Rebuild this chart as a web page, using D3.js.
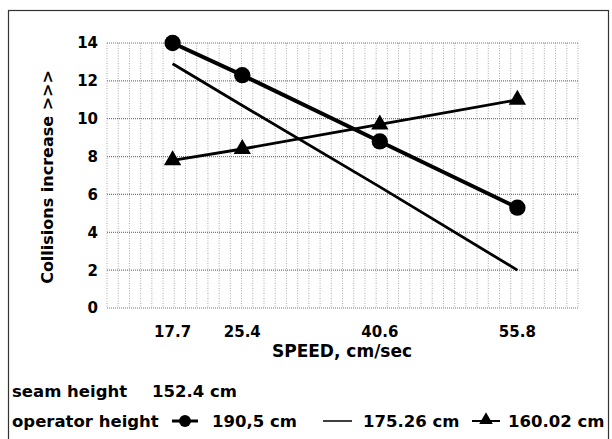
<!DOCTYPE html>
<html>
<head>
<meta charset="utf-8">
<script src="https://cdn.jsdelivr.net/npm/d3@7"></script>
<style>
  body { margin: 0; background: #fff; }
  text { font-family: "DejaVu Sans", sans-serif; font-weight: bold; fill: #000; }
</style>
</head>
<body>
<script>
// data
const speeds = [17.7, 25.4, 40.6, 55.8];
const op190 = [14.0, 12.3, 8.8, 5.3];    // 190,5 cm (circles)
const op175 = [12.9, 10.7, 6.4, 2.0];    // 175.26 cm (plain line)
const op160 = [7.8, 8.4, 9.7, 11.0];     // 160.02 cm (triangles)
const yTicks = [0, 2, 4, 6, 8, 10, 12, 14];

const width = 612;
const height = 439;

const svg = d3.select('body').append('svg')
    .attr('width', width)
    .attr('height', height);

svg.append('rect')
    .attr('width', width)
    .attr('height', height)
    .style('fill', '#fff');

// outer frame
svg.append('rect')
    .attr('x', 8.5)
    .attr('y', 10.5)
    .attr('width', 600)
    .attr('height', 440)
    .style('fill', 'none')
    .style('stroke', '#333')
    .style('stroke-width', 1.2);

const plot = { left: 107, right: 578, top: 43, bottom: 308 };

const x = d3.scaleLinear().domain([10.45, 62.5]).range([plot.left, plot.right]);
const y = d3.scaleLinear().domain([0, 14]).range([plot.bottom, plot.top]);

// grid (dotted, like the scanned minor grid)
const vGrid = d3.range(43).map(i => x.domain()[0] + i * (x.domain()[1] - x.domain()[0]) / 42);
svg.append('g')
    .selectAll('line')
    .data(vGrid)
    .join('line')
    .attr('x1', d => x(d))
    .attr('x2', d => x(d))
    .attr('y1', plot.top)
    .attr('y2', plot.bottom)
    .style('stroke', '#aaa')
    .style('stroke-width', 1)
    .style('stroke-dasharray', '1,1.5');

svg.append('g')
    .selectAll('line')
    .data(yTicks)
    .join('line')
    .attr('x1', plot.left)
    .attr('x2', plot.right)
    .attr('y1', d => y(d))
    .attr('y2', d => y(d))
    .style('stroke', '#777')
    .style('stroke-width', 1.2)
    .style('stroke-dasharray', '1,1');

// y tick labels
svg.append('g')
    .selectAll('text')
    .data(yTicks)
    .join('text')
    .attr('x', 98)
    .attr('y', d => y(d))
    .attr('dy', '0.36em')
    .attr('text-anchor', 'end')
    .style('font-size', '15px')
    .text(d => d);

// x tick labels
svg.append('g')
    .selectAll('text')
    .data(speeds)
    .join('text')
    .attr('x', d => x(d))
    .attr('y', 337)
    .attr('text-anchor', 'middle')
    .style('font-size', '15px')
    .text(d => d);

svg.append('text')
    .attr('x', 342)
    .attr('y', 357)
    .attr('text-anchor', 'middle')
    .style('font-size', '17px')
    .text('SPEED, cm/sec');

svg.append('text')
    .attr('transform', 'translate(53,177) rotate(-90)')
    .attr('text-anchor', 'middle')
    .style('font-size', '16px')
    .text('Collisions increase >>>');

// series
const line = d3.line().x(d => x(d[0])).y(d => y(d[1]));
const pts = vals => speeds.map((s, i) => [s, vals[i]]);

svg.append('path')
    .attr('d', line(pts(op160)))
    .style('fill', 'none')
    .style('stroke', '#000')
    .style('stroke-width', 2.8);

svg.append('path')
    .attr('d', line(pts(op175)))
    .style('fill', 'none')
    .style('stroke', '#000')
    .style('stroke-width', 2.8);

svg.append('path')
    .attr('d', line(pts(op190)))
    .style('fill', 'none')
    .style('stroke', '#000')
    .style('stroke-width', 4);

const circle = d3.symbol().type(d3.symbolCircle).size(210);
const tri = d3.symbol().type(d3.symbolTriangle).size(130);

svg.append('g')
    .selectAll('path')
    .data(pts(op190))
    .join('path')
    .attr('transform', d => `translate(${x(d[0])},${y(d[1])})`)
    .attr('d', circle)
    .style('fill', '#000');

svg.append('g')
    .selectAll('path')
    .data(pts(op160))
    .join('path')
    .attr('transform', d => `translate(${x(d[0])},${y(d[1])})`)
    .attr('d', tri)
    .style('fill', '#000');

// legend
svg.append('text')
    .attr('x', 12)
    .attr('y', 397)
    .style('font-size', '16.5px')
    .text('seam height');
svg.append('text')
    .attr('x', 152)
    .attr('y', 397)
    .style('font-size', '16.5px')
    .text('152.4 cm');

const ly = 427;
svg.append('text')
    .attr('x', 12)
    .attr('y', ly)
    .style('font-size', '16.5px')
    .text('operator height');

svg.append('line')
    .attr('x1', 172).attr('x2', 198)
    .attr('y1', ly - 6).attr('y2', ly - 6)
    .style('stroke', '#000').style('stroke-width', 3);
svg.append('path')
    .attr('transform', `translate(185,${ly - 6})`)
    .attr('d', d3.symbol().type(d3.symbolCircle).size(110))
    .style('fill', '#000');
svg.append('text')
    .attr('x', 212)
    .attr('y', ly)
    .style('font-size', '16.5px')
    .text('190,5 cm');

svg.append('line')
    .attr('x1', 323).attr('x2', 352)
    .attr('y1', ly - 6).attr('y2', ly - 6)
    .style('stroke', '#000').style('stroke-width', 1.5);
svg.append('text')
    .attr('x', 363)
    .attr('y', ly)
    .style('font-size', '16.5px')
    .text('175.26 cm');

svg.append('line')
    .attr('x1', 472).attr('x2', 500)
    .attr('y1', ly - 6).attr('y2', ly - 6)
    .style('stroke', '#000').style('stroke-width', 2);
svg.append('path')
    .attr('transform', `translate(486,${ly - 7})`)
    .attr('d', d3.symbol().type(d3.symbolTriangle).size(80))
    .style('fill', '#000');
svg.append('text')
    .attr('x', 508)
    .attr('y', ly)
    .style('font-size', '16.5px')
    .text('160.02 cm');
</script>
</body>
</html>
